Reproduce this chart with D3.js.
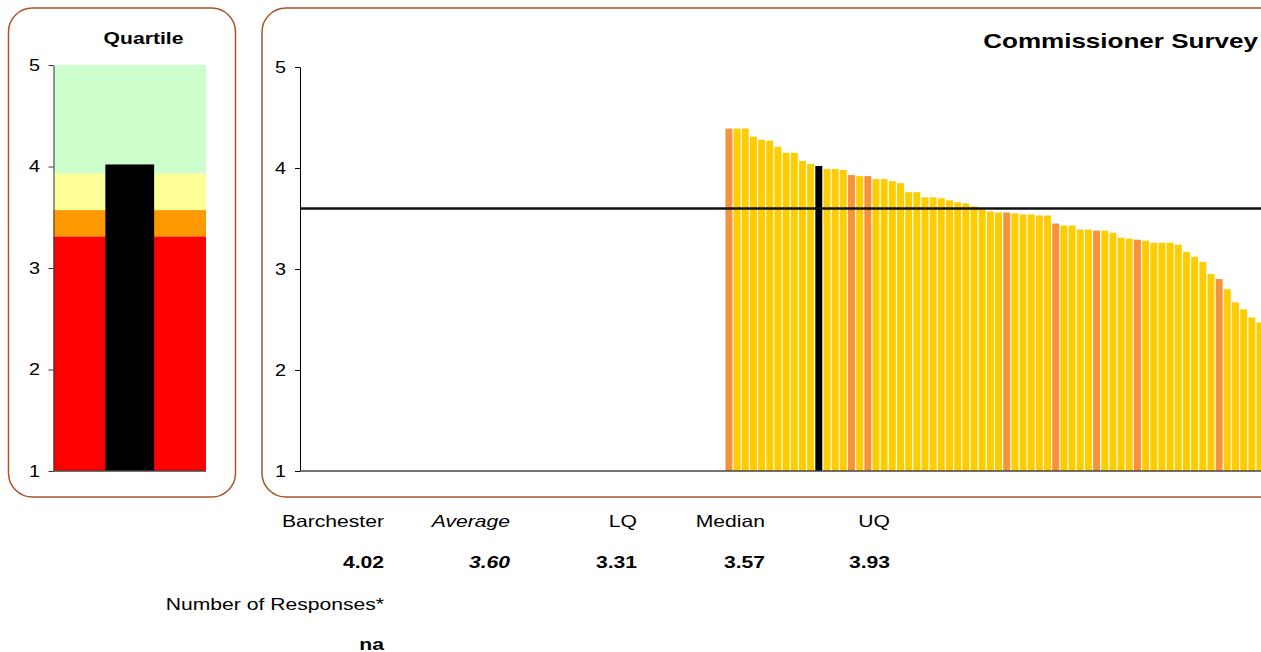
<!DOCTYPE html>
<html>
<head>
<meta charset="utf-8">
<script src="https://cdn.jsdelivr.net/npm/d3@7"></script>
<style>
  html, body { margin: 0; padding: 0; background: #fff; overflow: hidden; }
  svg { display: block; }
  text { font-family: "Liberation Sans", Arial, sans-serif; fill: #000; }
</style>
</head>
<body>
<svg id="chart" width="1261" height="652"></svg>
<script>
// Survey scores for each authority, sorted high to low
const scores = [4.39, 4.39, 4.39, 4.31, 4.28, 4.27, 4.21, 4.15, 4.15, 4.07,
                4.04, 4.02, 3.99, 3.99, 3.98, 3.93, 3.92, 3.92, 3.89, 3.89,
                3.87, 3.85, 3.76, 3.76, 3.71, 3.71, 3.70, 3.68, 3.66, 3.65,
                3.62, 3.59, 3.57, 3.56, 3.56, 3.55, 3.54, 3.54, 3.53, 3.53,
                3.45, 3.43, 3.43, 3.39, 3.39, 3.38, 3.38, 3.36, 3.31, 3.30,
                3.29, 3.28, 3.26, 3.26, 3.26, 3.24, 3.17, 3.12, 3.07, 2.95,
                2.90, 2.80, 2.67, 2.60, 2.52, 2.47];
// 1-based ranks of the comparator group bars (drawn orange)
const comparatorRanks = [1, 16, 18, 35, 41, 46, 51, 61];
// 1-based rank of Barchester
const barchesterRank = 12;
// empty category slots before the first scored authority
const blankSlots = 52;

// Summary statistics
const summaryLabels = ["Barchester", "Average", "LQ", "Median", "UQ"];
const summaryValues = [4.02, 3.60, 3.31, 3.57, 3.93];
const responsesLabel = "Number of Responses*";
const responsesValue = "na";

const yTicks = [1, 2, 3, 4, 5];

const [barchester, average, lq, median, uq] = summaryValues;

const SX = 1.28; // horizontal stretch applied to all text
const svg = d3.select("#chart");
const border = "#A9552A";

function label(g, x, y, str, opt = {}) {
  return g.append("text")
    .attr("transform", `translate(${x},${y}) scale(${opt.sx || SX},1)`)
    .attr("text-anchor", opt.anchor || "end")
    .style("font-size", (opt.size || 16.5) + "px")
    .style("font-weight", opt.bold ? "bold" : "normal")
    .style("font-style", opt.italic ? "italic" : "normal")
    .text(str);
}

// ---------- Quartile panel ----------
svg.append("rect")
  .attr("x", 8.5).attr("y", 8).attr("width", 227).attr("height", 489)
  .attr("rx", 24).attr("ry", 24)
  .attr("fill", "#fff").attr("stroke", border).attr("stroke-width", 1.5);

label(svg, 143.5, 43.5, "Quartile", { anchor: "middle", bold: true });

const qx0 = 53.5, qx1 = 206;
const qy = d3.scaleLinear().domain([1, 5]).range([471, 65]);
const qx = d3.scaleBand().domain(["Barchester"]).range([qx0, qx1]).paddingInner(0.68).paddingOuter(0.34);

const bands = [
  { from: uq, to: 5, color: "#CCFFCC" },
  { from: median, to: uq, color: "#FFFF99" },
  { from: lq, to: median, color: "#FF9900" },
  { from: 1, to: lq, color: "#FF0000" }
];
svg.append("g").selectAll("rect").data(bands).join("rect")
  .attr("x", qx0).attr("width", qx1 - qx0)
  .attr("y", d => qy(d.to))
  .attr("height", d => qy(d.from) - qy(d.to))
  .attr("fill", d => d.color);

svg.append("rect")
  .attr("x", qx("Barchester")).attr("width", qx.bandwidth())
  .attr("y", qy(barchester)).attr("height", qy(1) - qy(barchester))
  .attr("fill", "#000");

const TSX = 1.2; // stretch for tick labels
const qAxis = svg.append("g").attr("transform", `translate(${qx0},0)`)
  .call(d3.axisLeft(qy).tickValues(yTicks).tickFormat(d3.format("d")).tickSize(5).tickSizeOuter(0).tickPadding(8));
qAxis.select(".domain").attr("stroke", "#333");
qAxis.selectAll(".tick line").attr("stroke", "#333");
qAxis.selectAll("text").style("font-size", "16.5px")
  .attr("transform", `scale(${TSX},1)`).attr("x", -13.5 / TSX);

svg.append("line").attr("x1", qx0).attr("x2", qx1).attr("y1", qy(1)).attr("y2", qy(1))
  .attr("stroke", "#444").attr("stroke-width", 1.5);

// ---------- Commissioner Survey panel ----------
svg.append("rect")
  .attr("x", 262).attr("y", 8).attr("width", 1060).attr("height", 489)
  .attr("rx", 24).attr("ry", 24)
  .attr("fill", "#fff").attr("stroke", border).attr("stroke-width", 1.5);

label(svg, 1258, 47.5, "Commissioner Survey", { anchor: "end", bold: true, size: 20.5, sx: 1.27 });

const px0 = 300;
const step = 8.17;
const slots = d3.range(blankSlots + scores.length);
const x = d3.scaleBand().domain(slots).range([px0, px0 + slots.length * step]).paddingInner(0.15).paddingOuter(0.075);
const y = d3.scaleLinear().domain([1, 5]).range([471, 67]);

const bars = scores.map((v, i) => ({
  slot: blankSlots + i,
  rank: i + 1,
  value: v
}));

svg.append("g").selectAll("rect").data(bars).join("rect")
  .attr("x", d => x(d.slot))
  .attr("width", x.bandwidth())
  .attr("y", d => y(d.rank === barchesterRank ? barchester : d.value))
  .attr("height", d => y(1) - y(d.rank === barchesterRank ? barchester : d.value))
  .attr("fill", d => d.rank === barchesterRank ? "#000"
                   : comparatorRanks.includes(d.rank) ? "#F7923A" : "#FFCC00");

// average reference line
svg.append("line")
  .attr("x1", px0).attr("x2", 1261)
  .attr("y1", y(average)).attr("y2", y(average))
  .attr("stroke", "#111").attr("stroke-width", 2.5);

const mAxis = svg.append("g").attr("transform", `translate(${px0},0)`)
  .call(d3.axisLeft(y).tickValues(yTicks).tickFormat(d3.format("d")).tickSize(5).tickSizeOuter(0).tickPadding(10));
mAxis.select(".domain").attr("stroke", "#000");
mAxis.selectAll("text").style("font-size", "16.5px")
  .attr("transform", `scale(${TSX},1)`).attr("x", -14 / TSX);

svg.append("line").attr("x1", px0).attr("x2", 1261).attr("y1", y(1)).attr("y2", y(1))
  .attr("stroke", "#444").attr("stroke-width", 1.5);

// ---------- Summary table ----------
const colRight = [384, 510, 637, 765, 890];
summaryLabels.forEach((s, i) => {
  label(svg, colRight[i], 526.5, s, { italic: i === 1 });
  label(svg, colRight[i], 568, summaryValues[i].toFixed(2), { bold: true, italic: i === 1 });
});
label(svg, 384, 609.5, responsesLabel);
label(svg, 384, 650, responsesValue, { bold: true });
</script>
</body>
</html>
